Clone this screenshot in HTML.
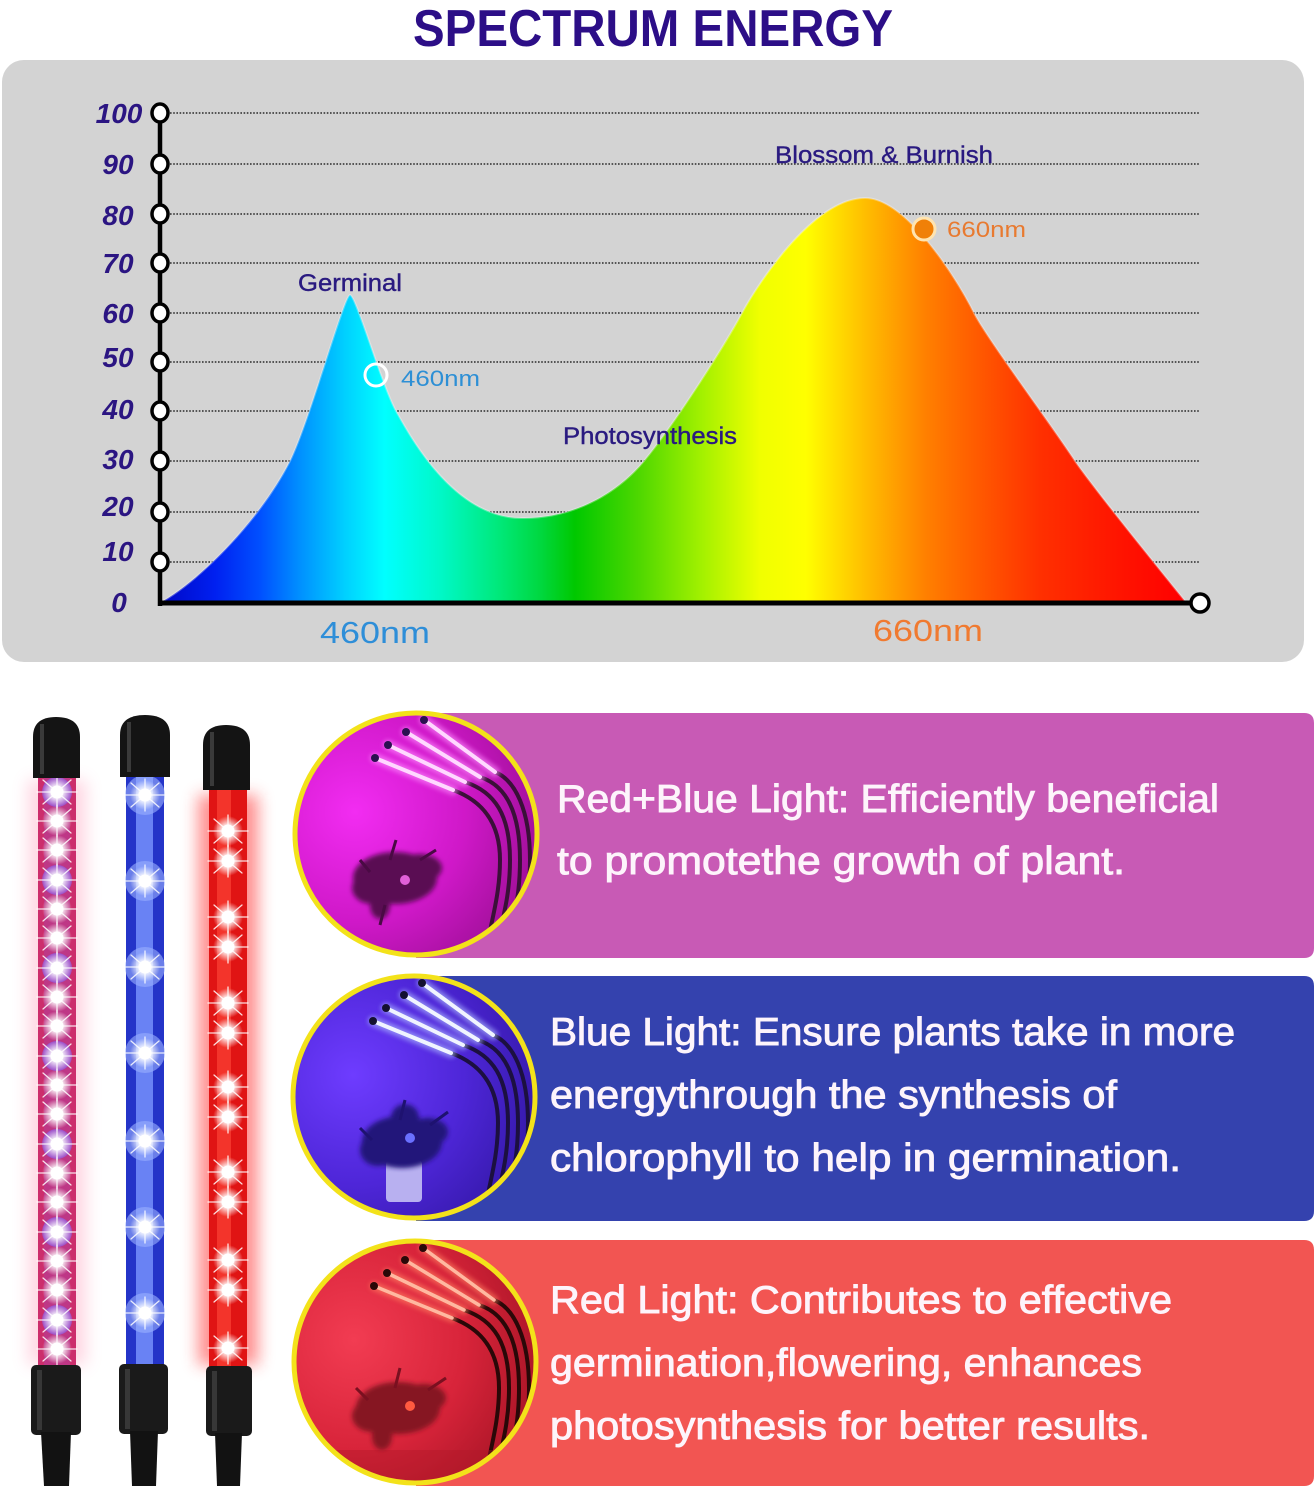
<!DOCTYPE html>
<html>
<head>
<meta charset="utf-8">
<style>
html,body{margin:0;padding:0;background:#fff;}
svg{display:block;}
</style>
</head>
<body>
<svg width="1316" height="1486" viewBox="0 0 1316 1486" xmlns="http://www.w3.org/2000/svg" font-family="'Liberation Sans', sans-serif">
<defs>
  <linearGradient id="spec" gradientUnits="userSpaceOnUse" x1="163" y1="0" x2="1185" y2="0">
    <stop offset="0" stop-color="#0008c8"/>
    <stop offset="0.051" stop-color="#0020f0"/>
    <stop offset="0.095" stop-color="#0050ff"/>
    <stop offset="0.134" stop-color="#0090ff"/>
    <stop offset="0.178" stop-color="#00d0ff"/>
    <stop offset="0.217" stop-color="#00ffff"/>
    <stop offset="0.271" stop-color="#00f8c8"/>
    <stop offset="0.33" stop-color="#00e878"/>
    <stop offset="0.369" stop-color="#00d840"/>
    <stop offset="0.403" stop-color="#00c800"/>
    <stop offset="0.467" stop-color="#50d800"/>
    <stop offset="0.525" stop-color="#a0f000"/>
    <stop offset="0.584" stop-color="#f0ff00"/>
    <stop offset="0.629" stop-color="#ffff00"/>
    <stop offset="0.692" stop-color="#ffb800"/>
    <stop offset="0.746" stop-color="#ff8000"/>
    <stop offset="0.8" stop-color="#ff5800"/>
    <stop offset="0.858" stop-color="#ff3000"/>
    <stop offset="0.936" stop-color="#ff1400"/>
    <stop offset="1" stop-color="#ff0000"/>
  </linearGradient>
  <radialGradient id="bg1" cx="0.25" cy="0.4" r="0.85">
    <stop offset="0" stop-color="#f22cf2"/>
    <stop offset="0.5" stop-color="#cf18c8"/>
    <stop offset="1" stop-color="#8e0c86"/>
  </radialGradient>
  <radialGradient id="bg2" cx="0.25" cy="0.4" r="0.85">
    <stop offset="0" stop-color="#6e3cff"/>
    <stop offset="0.5" stop-color="#4e26d8"/>
    <stop offset="1" stop-color="#2c149a"/>
  </radialGradient>
  <radialGradient id="bg3" cx="0.25" cy="0.4" r="0.85">
    <stop offset="0" stop-color="#f23c52"/>
    <stop offset="0.5" stop-color="#d8243a"/>
    <stop offset="1" stop-color="#9a1020"/>
  </radialGradient>
  <radialGradient id="ledW">
    <stop offset="0" stop-color="#ffffff"/>
    <stop offset="0.35" stop-color="#ffffff" stop-opacity="0.95"/>
    <stop offset="1" stop-color="#ffffff" stop-opacity="0"/>
  </radialGradient>
  <clipPath id="cp1"><circle cx="416" cy="834" r="121"/></clipPath>
  <clipPath id="cp2"><circle cx="414" cy="1097" r="121"/></clipPath>
  <clipPath id="cp3"><circle cx="415" cy="1362" r="121"/></clipPath>
  <filter id="blur4" x="-50%" y="-50%" width="200%" height="200%"><feGaussianBlur stdDeviation="4"/></filter>
  <filter id="blur2" x="-50%" y="-50%" width="200%" height="200%"><feGaussianBlur stdDeviation="2.5"/></filter>
  <filter id="blur8" x="-50%" y="-20%" width="200%" height="140%"><feGaussianBlur stdDeviation="8"/></filter>
  <g id="star">
    <circle r="15" fill="url(#ledW)"/>
    <g stroke="#ffffff" stroke-width="1.3" stroke-linecap="round" opacity="0.85">
      <line x1="-20" y1="0" x2="20" y2="0"/>
      <line x1="0" y1="-16" x2="0" y2="16"/>
      <line x1="-14" y1="-12" x2="14" y2="12"/>
      <line x1="-14" y1="12" x2="14" y2="-12"/>
    </g>
    <circle r="6.5" fill="#ffffff"/>
  </g>
</defs>

<rect x="0" y="0" width="1316" height="1486" fill="#ffffff"/>

<!-- Title -->
<text x="413" y="46" font-size="52" font-weight="bold" fill="#2c0e87" textLength="480" lengthAdjust="spacingAndGlyphs">SPECTRUM ENERGY</text>

<!-- Panel -->
<rect x="2" y="60" width="1302" height="602" rx="22" ry="22" fill="#d3d3d3"/>

<!-- Grid lines -->
<g stroke="#2a2a2a" stroke-width="1.4" stroke-dasharray="1.6 1.6">
  <line x1="170" y1="113" x2="1200" y2="113"/>
  <line x1="170" y1="164" x2="1200" y2="164"/>
  <line x1="170" y1="214" x2="1200" y2="214"/>
  <line x1="170" y1="263" x2="1200" y2="263"/>
  <line x1="170" y1="313" x2="1200" y2="313"/>
  <line x1="170" y1="362" x2="1200" y2="362"/>
  <line x1="170" y1="411" x2="1200" y2="411"/>
  <line x1="170" y1="461" x2="1200" y2="461"/>
  <line x1="170" y1="512" x2="1200" y2="512"/>
  <line x1="170" y1="562" x2="1200" y2="562"/>
</g>

<!-- Spectrum -->
<path d="M163,601 C200,580 260,520 290,461 C310,420 344,295 350,295 C356,295 382,386 396,411 C410,436 455,520 524,518 C570,518 614,497 644,461 C674,425 725,345 742,313 C760,280 815,198 865,198 C905,198 955,275 974,313 C986,337 1055,430 1075,461 C1095,490 1160,570 1185,601 Z" fill="url(#spec)"/>
<path d="M163,601 C200,580 260,520 290,461 C310,420 344,295 350,295 C356,295 382,386 396,411 C410,436 455,520 524,518 C570,518 614,497 644,461 C674,425 725,345 742,313 C760,280 815,198 865,198 C905,198 955,275 974,313 C986,337 1055,430 1075,461 C1095,490 1160,570 1185,601" fill="none" stroke="#ffffff" stroke-opacity="0.3" stroke-width="2"/>

<!-- Axes -->
<line x1="160" y1="111" x2="160" y2="606" stroke="#000" stroke-width="4.5"/>
<line x1="158" y1="603" x2="1192" y2="603" stroke="#000" stroke-width="5"/>
<g fill="#ffffff" stroke="#000" stroke-width="3.5">
  <ellipse cx="160" cy="113" rx="8" ry="9"/>
  <ellipse cx="160" cy="164" rx="8" ry="9"/>
  <ellipse cx="160" cy="214" rx="8" ry="9"/>
  <ellipse cx="160" cy="263" rx="8" ry="9"/>
  <ellipse cx="160" cy="313" rx="8" ry="9"/>
  <ellipse cx="160" cy="362" rx="8" ry="9"/>
  <ellipse cx="160" cy="411" rx="8" ry="9"/>
  <ellipse cx="160" cy="461" rx="8" ry="9"/>
  <ellipse cx="160" cy="512" rx="8" ry="9"/>
  <ellipse cx="160" cy="562" rx="8" ry="9"/>
  <ellipse cx="1200" cy="603" rx="9" ry="9"/>
</g>

<!-- Y labels -->
<g font-size="28" font-weight="bold" font-style="italic" fill="#2b1582" text-anchor="middle">
  <text x="119" y="123">100</text>
  <text x="118" y="174">90</text>
  <text x="118" y="225">80</text>
  <text x="118" y="273">70</text>
  <text x="118" y="323">60</text>
  <text x="118" y="367">50</text>
  <text x="118" y="419">40</text>
  <text x="118" y="469">30</text>
  <text x="118" y="516">20</text>
  <text x="118" y="561">10</text>
  <text x="119" y="612">0</text>
</g>

<!-- Chart annotations -->
<g stroke-width="0.4">
<text x="298" y="291" font-size="24" fill="#2a1a80" stroke="#2a1a80" textLength="104" lengthAdjust="spacingAndGlyphs">Germinal</text>
<text x="563" y="444" font-size="24" fill="#2a1a80" stroke="#2a1a80" textLength="174" lengthAdjust="spacingAndGlyphs">Photosynthesis</text>
<text x="775" y="163" font-size="24" fill="#2a1a80" stroke="#2a1a80" textLength="218" lengthAdjust="spacingAndGlyphs">Blossom &amp; Burnish</text>
</g>
<circle cx="376" cy="375" r="11" fill="none" stroke="#ffffff" stroke-width="3"/>
<text x="401" y="386" font-size="22" fill="#2d8fd5" textLength="79" lengthAdjust="spacingAndGlyphs">460nm</text>
<circle cx="924" cy="229" r="11" fill="#f08008" stroke="#ffe4b0" stroke-width="3"/>
<text x="947" y="237" font-size="22" fill="#e87a30" textLength="79" lengthAdjust="spacingAndGlyphs">660nm</text>
<text x="320" y="643" font-size="31" fill="#2e8ed8" textLength="110" lengthAdjust="spacingAndGlyphs">460nm</text>
<text x="873" y="641" font-size="31" fill="#f07a30" textLength="110" lengthAdjust="spacingAndGlyphs">660nm</text>

<!-- ================= LED strips ================= -->
<rect x="198" y="795" width="60" height="570" fill="#ff3030" opacity="0.55" filter="url(#blur8)"/>
<rect x="28" y="780" width="58" height="585" fill="#ff6090" opacity="0.25" filter="url(#blur8)"/>

<!-- Strip 1 body -->
<rect x="38" y="776" width="38" height="592" fill="#cc2e6c"/>
<rect x="44" y="776" width="26" height="592" fill="#b040a0" opacity="0.5"/>
<!-- Strip 2 body -->
<rect x="126" y="775" width="38" height="593" fill="#2434c8"/>
<rect x="136" y="775" width="17" height="593" fill="#7a96ff" opacity="0.8"/>
<!-- Strip 3 body -->
<rect x="209" y="788" width="38" height="580" fill="#e01414"/>
<rect x="217" y="788" width="14" height="580" fill="#ff4a3a" opacity="0.6"/>

<!-- Strip 1 LEDs -->
<g>
  <g fill="#8060ff" opacity="0.55">
    <circle cx="57" cy="792" r="15"/><circle cx="57" cy="880" r="15"/><circle cx="57" cy="968" r="15"/><circle cx="57" cy="1056" r="15"/><circle cx="57" cy="1144" r="15"/><circle cx="57" cy="1232" r="15"/><circle cx="57" cy="1320" r="15"/>
  </g>
  <use href="#star" x="57" y="792"/><use href="#star" x="57" y="821"/><use href="#star" x="57" y="850"/><use href="#star" x="57" y="880"/>
  <use href="#star" x="57" y="909"/><use href="#star" x="57" y="938"/><use href="#star" x="57" y="968"/><use href="#star" x="57" y="997"/>
  <use href="#star" x="57" y="1026"/><use href="#star" x="57" y="1056"/><use href="#star" x="57" y="1085"/><use href="#star" x="57" y="1114"/>
  <use href="#star" x="57" y="1144"/><use href="#star" x="57" y="1173"/><use href="#star" x="57" y="1202"/><use href="#star" x="57" y="1232"/>
  <use href="#star" x="57" y="1261"/><use href="#star" x="57" y="1290"/><use href="#star" x="57" y="1320"/><use href="#star" x="57" y="1349"/>
</g>
<!-- Strip 2 LEDs -->
<g>
  <g fill="#9ab0ff" opacity="0.6">
    <circle cx="145" cy="795" r="20"/><circle cx="145" cy="881" r="20"/><circle cx="145" cy="967" r="20"/><circle cx="145" cy="1053" r="20"/><circle cx="145" cy="1141" r="20"/><circle cx="145" cy="1227" r="20"/><circle cx="145" cy="1313" r="20"/>
  </g>
  <use href="#star" x="145" y="795"/><use href="#star" x="145" y="881"/><use href="#star" x="145" y="967"/><use href="#star" x="145" y="1053"/>
  <use href="#star" x="145" y="1141"/><use href="#star" x="145" y="1227"/><use href="#star" x="145" y="1313"/>
</g>
<!-- Strip 3 LEDs -->
<g>
  <use href="#star" x="228" y="831"/><use href="#star" x="228" y="861"/>
  <use href="#star" x="228" y="917"/><use href="#star" x="228" y="947"/>
  <use href="#star" x="228" y="1003"/><use href="#star" x="228" y="1033"/>
  <use href="#star" x="228" y="1087"/><use href="#star" x="228" y="1117"/>
  <use href="#star" x="228" y="1172"/><use href="#star" x="228" y="1202"/>
  <use href="#star" x="228" y="1260"/><use href="#star" x="228" y="1290"/>
  <use href="#star" x="228" y="1348"/>
</g>

<!-- Caps -->
<path d="M33,778 V737 Q33,717 56,717 Q80,717 80,737 V778 Z" fill="#141414"/>
<rect x="40" y="724" width="4" height="50" fill="#4a4a4a" opacity="0.7"/>
<path d="M120,777 V735 Q120,715 145,715 Q170,715 170,735 V777 Z" fill="#141414"/>
<rect x="127" y="722" width="4" height="50" fill="#4a4a4a" opacity="0.7"/>
<path d="M203,790 V745 Q203,725 226,725 Q250,725 250,745 V790 Z" fill="#141414"/>
<rect x="210" y="732" width="4" height="54" fill="#4a4a4a" opacity="0.7"/>

<!-- Bases -->
<rect x="31" y="1365" width="50" height="70" rx="5" fill="#1a1a1a"/>
<rect x="37" y="1370" width="5" height="60" fill="#444" opacity="0.7"/>
<path d="M41,1432 H71 L69,1486 H44 Z" fill="#121212"/>
<rect x="119" y="1364" width="49" height="70" rx="5" fill="#1a1a1a"/>
<rect x="125" y="1369" width="5" height="60" fill="#444" opacity="0.7"/>
<path d="M130,1431 H158 L156,1486 H132 Z" fill="#121212"/>
<rect x="206" y="1366" width="46" height="70" rx="5" fill="#1a1a1a"/>
<rect x="212" y="1371" width="5" height="60" fill="#444" opacity="0.7"/>
<path d="M215,1433 H242 L240,1486 H217 Z" fill="#121212"/>

<!-- ================= Banners ================= -->
<path d="M416,713 H1304 Q1314,713 1314,723 V948 Q1314,958 1304,958 H416 Z" fill="#c85ab5"/>
<path d="M416,976 H1304 Q1314,976 1314,986 V1211 Q1314,1221 1304,1221 H416 Z" fill="#3442ae"/>
<path d="M416,1240 H1304 Q1314,1240 1314,1250 V1476 Q1314,1486 1304,1486 H416 Z" fill="#f25552"/>

<!-- Circle 1 photo -->
<g clip-path="url(#cp1)">
  <rect x="290" y="708" width="260" height="260" fill="url(#bg1)"/>
  <g fill="none" stroke="#3a1038" stroke-width="4">
    <path d="M453,790 C480,800 500,820 500,860 S488,930 485,960"/>
    <path d="M465,782 C495,792 510,815 510,860 S498,930 495,960"/>
    <path d="M480,777 C505,785 520,810 520,860 S508,930 505,960"/>
    <path d="M495,772 C515,780 530,810 530,860 S518,930 515,960"/>
  </g>
  <g stroke="#ff90ff" stroke-width="10" stroke-linecap="round" opacity="0.6" filter="url(#blur2)">
    <line x1="375" y1="758" x2="453" y2="790"/><line x1="388" y1="745" x2="465" y2="782"/>
    <line x1="406" y1="732" x2="480" y2="777"/><line x1="424" y1="720" x2="495" y2="772"/>
  </g>
  <g stroke="#ffd8ff" stroke-width="4" stroke-linecap="round">
    <line x1="375" y1="758" x2="453" y2="790"/><line x1="388" y1="745" x2="465" y2="782"/>
    <line x1="406" y1="732" x2="480" y2="777"/><line x1="424" y1="720" x2="495" y2="772"/>
  </g>
  <g fill="#2a1050"><circle cx="375" cy="758" r="4"/><circle cx="388" cy="745" r="4"/><circle cx="406" cy="732" r="4"/><circle cx="424" cy="720" r="4"/></g>
  <g fill="#5a0c52" filter="url(#blur2)">
    <ellipse cx="395" cy="878" rx="42" ry="26"/>
    <ellipse cx="372" cy="888" rx="20" ry="16"/>
    <ellipse cx="420" cy="868" rx="22" ry="14"/>
    <ellipse cx="380" cy="905" rx="10" ry="14"/>
  </g>
  <g stroke="#4a0a44" stroke-width="3" fill="none">
    <path d="M390,860 L396,840"/><path d="M370,872 L360,860"/><path d="M420,860 L436,850"/><path d="M385,905 L380,925"/>
  </g>
  <circle cx="405" cy="880" r="5" fill="#e060d8"/>
</g>
<circle cx="416" cy="834" r="121" fill="none" stroke="#f3e21a" stroke-width="5"/>

<!-- Circle 2 photo -->
<g clip-path="url(#cp2)">
  <rect x="288" y="971" width="260" height="260" fill="url(#bg2)"/>
  <g transform="translate(-2,263)">
    <g fill="none" stroke="#1c1040" stroke-width="4">
      <path d="M453,790 C480,800 500,820 500,860 S488,930 485,960"/>
      <path d="M465,782 C495,792 510,815 510,860 S498,930 495,960"/>
      <path d="M480,777 C505,785 520,810 520,860 S508,930 505,960"/>
      <path d="M495,772 C515,780 530,810 530,860 S518,930 515,960"/>
    </g>
    <g stroke="#b0c0ff" stroke-width="10" stroke-linecap="round" opacity="0.6" filter="url(#blur2)">
      <line x1="375" y1="758" x2="453" y2="790"/><line x1="388" y1="745" x2="465" y2="782"/>
      <line x1="406" y1="732" x2="480" y2="777"/><line x1="424" y1="720" x2="495" y2="772"/>
    </g>
    <g stroke="#f0f4ff" stroke-width="4" stroke-linecap="round">
      <line x1="375" y1="758" x2="453" y2="790"/><line x1="388" y1="745" x2="465" y2="782"/>
      <line x1="406" y1="732" x2="480" y2="777"/><line x1="424" y1="720" x2="495" y2="772"/>
    </g>
    <g fill="#141030"><circle cx="375" cy="758" r="4"/><circle cx="388" cy="745" r="4"/><circle cx="406" cy="732" r="4"/><circle cx="424" cy="720" r="4"/></g>
  </g>
  <rect x="386" y="1160" width="36" height="42" rx="4" fill="#b8b0f0"/>
  <g fill="#22137a" filter="url(#blur2)">
    <ellipse cx="402" cy="1142" rx="40" ry="26"/>
    <ellipse cx="378" cy="1150" rx="18" ry="16"/>
    <ellipse cx="428" cy="1132" rx="20" ry="14"/>
    <ellipse cx="405" cy="1118" rx="14" ry="14"/>
  </g>
  <g stroke="#1e1270" stroke-width="3" fill="none">
    <path d="M400,1120 L405,1100"/><path d="M372,1140 L360,1128"/><path d="M430,1125 L448,1112"/>
  </g>
  <circle cx="410" cy="1138" r="5" fill="#6a70ff"/>
</g>
<circle cx="414" cy="1097" r="121" fill="none" stroke="#f3e21a" stroke-width="5"/>

<!-- Circle 3 photo -->
<g clip-path="url(#cp3)">
  <rect x="289" y="1236" width="260" height="260" fill="url(#bg3)"/>
  <g transform="translate(-1,528)">
    <g fill="none" stroke="#2a0808" stroke-width="4">
      <path d="M453,790 C480,800 500,820 500,860 S488,930 485,960"/>
      <path d="M465,782 C495,792 510,815 510,860 S498,930 495,960"/>
      <path d="M480,777 C505,785 520,810 520,860 S508,930 505,960"/>
      <path d="M495,772 C515,780 530,810 530,860 S518,930 515,960"/>
    </g>
    <g stroke="#ff8060" stroke-width="9" stroke-linecap="round" opacity="0.6" filter="url(#blur2)">
      <line x1="375" y1="758" x2="453" y2="790"/><line x1="388" y1="745" x2="465" y2="782"/>
      <line x1="406" y1="732" x2="480" y2="777"/><line x1="424" y1="720" x2="495" y2="772"/>
    </g>
    <g stroke="#ffb8a0" stroke-width="3.5" stroke-linecap="round">
      <line x1="375" y1="758" x2="453" y2="790"/><line x1="388" y1="745" x2="465" y2="782"/>
      <line x1="406" y1="732" x2="480" y2="777"/><line x1="424" y1="720" x2="495" y2="772"/>
    </g>
    <g fill="#2a0808"><circle cx="375" cy="758" r="4"/><circle cx="388" cy="745" r="4"/><circle cx="406" cy="732" r="4"/><circle cx="424" cy="720" r="4"/></g>
  </g>
  <g fill="#861424" filter="url(#blur2)">
    <ellipse cx="398" cy="1408" rx="42" ry="26"/>
    <ellipse cx="372" cy="1416" rx="20" ry="16"/>
    <ellipse cx="424" cy="1398" rx="22" ry="14"/>
    <ellipse cx="382" cy="1436" rx="10" ry="14"/>
  </g>
  <g stroke="#7a1020" stroke-width="3" fill="none">
    <path d="M395,1388 L400,1368"/><path d="M368,1400 L356,1388"/><path d="M428,1390 L446,1378"/>
  </g>
  <circle cx="410" cy="1406" r="5" fill="#ff5a40"/>
  <rect x="289" y="1450" width="260" height="40" fill="#b01828" opacity="0.4"/>
</g>
<circle cx="415" cy="1362" r="121" fill="none" stroke="#f3e21a" stroke-width="5"/>

<!-- Banner texts -->
<g font-size="39" fill="#fdf4fb" stroke="#fdf4fb" stroke-width="0.9">
  <text x="557" y="812" textLength="662" lengthAdjust="spacingAndGlyphs">Red+Blue Light: Efficiently beneficial</text>
  <text x="557" y="874" textLength="568" lengthAdjust="spacingAndGlyphs">to promotethe growth of plant.</text>
  <text x="550" y="1045" textLength="685" lengthAdjust="spacingAndGlyphs">Blue Light: Ensure plants take in more</text>
  <text x="550" y="1108" textLength="567" lengthAdjust="spacingAndGlyphs">energythrough the synthesis of</text>
  <text x="550" y="1171" textLength="631" lengthAdjust="spacingAndGlyphs">chlorophyll to help in germination.</text>
  <text x="550" y="1313" textLength="622" lengthAdjust="spacingAndGlyphs">Red Light: Contributes to effective</text>
  <text x="550" y="1376" textLength="592" lengthAdjust="spacingAndGlyphs">germination,flowering, enhances</text>
  <text x="550" y="1439" textLength="600" lengthAdjust="spacingAndGlyphs">photosynthesis for better results.</text>
</g>
</svg>
</body>
</html>
